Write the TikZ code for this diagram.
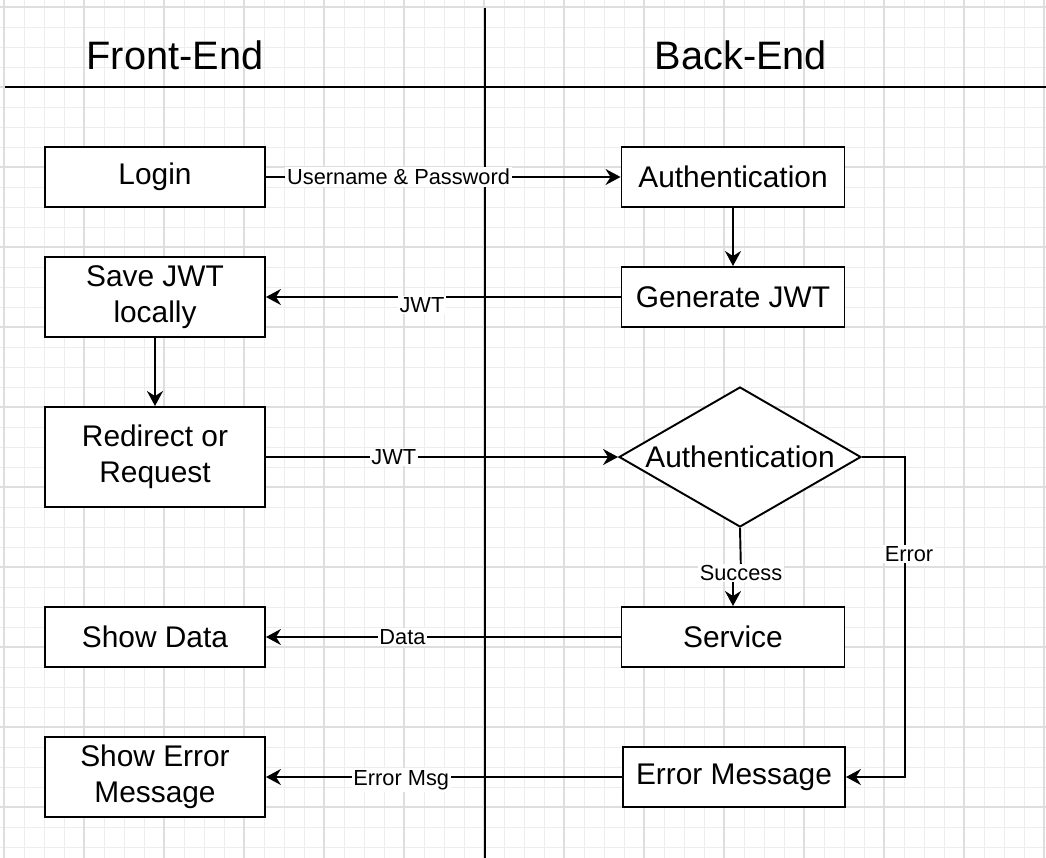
\documentclass[tikz,border=0pt]{standalone}
\usepackage{fontspec}
\setmainfont{Liberation Sans}
\usetikzlibrary{arrows.meta,shapes.geometric}
\begin{document}
\begin{tikzpicture}[x=0.02cm,y=-0.02cm,
  box/.style={draw,line width=1.1pt,fill=white,minimum width=4.4cm,minimum height=1.2cm,inner sep=0pt,align=center,font=\fontsize{17}{20.4}\selectfont},
  rbox/.style={box,minimum width=4.46cm},
  conn/.style={line width=1.1pt,-{Stealth[length=3mm,width=3.2mm,inset=1mm]}},
  lbl/.style={fill=white,inner sep=1pt,font=\fontsize{12.4}{15}\selectfont},
  ttl/.style={font=\fontsize{22.6}{27}\selectfont},
  minorgrid/.style={draw=black!7,line width=0.5pt},
  majorgrid/.style={draw=black!13,line width=0.8pt}]

\useasboundingbox (0,0) rectangle (1046,858);
\fill[white] (0,0) rectangle (1046,858);
\foreach \x in {4,24,...,1044} \draw[minorgrid] (\x,0) -- (\x,858);
\foreach \y in {7,27,...,847} \draw[minorgrid] (0,\y) -- (1046,\y);
\foreach \x in {4,84,...,1044} \draw[majorgrid] (\x,0) -- (\x,858);
\foreach \y in {7,87,...,807} \draw[majorgrid] (0,\y) -- (1046,\y);

% lanes
\draw[line width=1.1pt] (485,8) -- (485,858);
\draw[line width=1.1pt] (5,87) -- (1046,87);
\node[ttl] (fe) at (175,55) {Front-End};
\node[ttl] (be) at (741,55) {Back-End};

% front-end
\node[box] (login) at (155,177) {Login};
\node[box,minimum height=1.6cm] (save) at (155,297) {Save JWT\\locally};
\node[box,minimum height=2cm] (redir) at (155,457) {Redirect or\\ Request};
\node[box] (show) at (155,637) {Show Data};
\node[box,minimum height=1.6cm] (showerr) at (155,777) {Show Error\\Message};

% back-end
\node[rbox] (auth) at (733,177) {Authentication};
\node[rbox] (gen) at (733,297) {Generate JWT};
\node[diamond,draw,line width=1.1pt,fill=white,minimum width=4.84cm,minimum height=2.8cm,inner sep=0pt] (dia) at (740,457) {};
\node[font=\fontsize{17}{20.4}\selectfont] (diatxt) at (dia.center) {Authentication};
\node[rbox] (svc) at (733,637) {Service};
\node[rbox,minimum width=4.44cm] (errm) at (734,777) {Error Message};

% connectors
\draw[conn] (login) -- node[lbl,pos=0.374]{Username \& Password} (auth);
\draw[conn] (auth) -- (gen);
\draw[conn] (gen) -- node[lbl,pos=0.56,yshift=-0.16cm]{JWT} (save);
\draw[conn] (save) -- (redir);
\draw[conn] (redir) -- node[lbl,pos=0.363]{JWT} (dia.west);
\draw[conn] (dia.south) -- (741,573) node[lbl]{Success} -| (svc.north);
\draw[conn] (dia.east) -- (905,457) -- node[lbl,pos=0.303,xshift=0.08cm]{Error} (905,777) -- (errm.east);
\draw[conn] (svc) -- node[lbl,pos=0.615]{Data} (show);
\draw[conn] (errm) -- node[lbl,pos=0.62,yshift=-0.06cm]{Error Msg} (showerr);
\end{tikzpicture}
\end{document}
